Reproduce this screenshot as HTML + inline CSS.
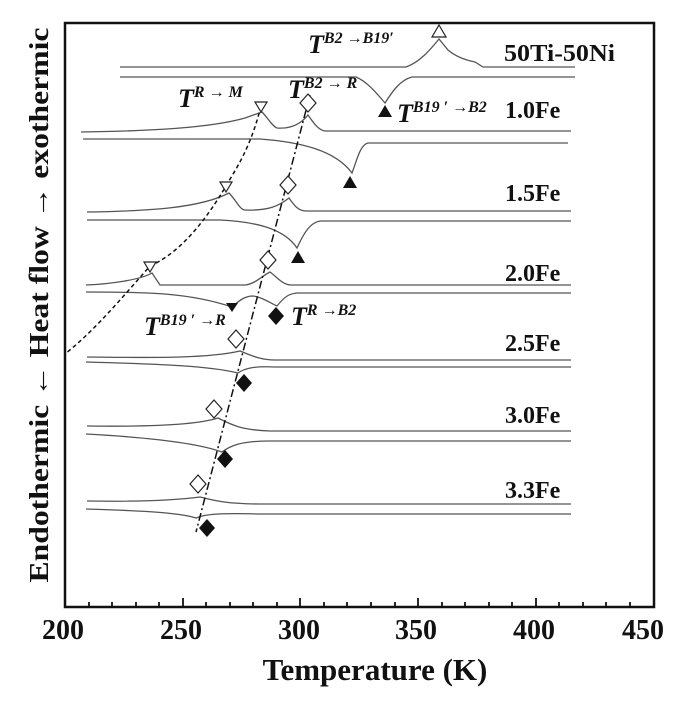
<!DOCTYPE html>
<html><head><meta charset="utf-8"><style>
body{margin:0;background:#fff;}
svg{display:block;font-family:"Liberation Serif",serif;}
.c{fill:none;stroke:#555;stroke-width:1.3;}
.lab{font-weight:bold;font-size:24px;fill:#111;}
.t{font-weight:bold;font-style:italic;font-size:26px;fill:#111;}
.s{font-size:16px;}
</style></head><body>
<svg width="693" height="705" viewBox="0 0 693 705" xmlns="http://www.w3.org/2000/svg">
<rect x="65" y="23" width="589" height="584" fill="none" stroke="#111" stroke-width="2.5"/>
<g stroke="#111" stroke-width="1.8">
<path d="M65 607v-9M89 607v-5M112 607v-5M136 607v-5M159 607v-5M183 607v-9M206 607v-5M230 607v-5M253 607v-5M277 607v-5M300 607v-9M324 607v-5M347 607v-5M371 607v-5M395 607v-5M418 607v-9M442 607v-5M465 607v-5M489 607v-5M512 607v-5M536 607v-9M559 607v-5M583 607v-5M606 607v-5M630 607v-5"/>
</g>
<g class="lab" text-anchor="middle">
<text x="63" y="639" style="font-size:28px">200</text><text x="181" y="639" style="font-size:28px">250</text><text x="299" y="639" style="font-size:28px">300</text><text x="416" y="639" style="font-size:28px">350</text><text x="534" y="639" style="font-size:28px">400</text><text x="643" y="639" style="font-size:28px">450</text>
<text x="375" y="680" style="font-size:31px">Temperature (K)</text>
</g>
<text class="lab" transform="translate(48,305) rotate(-90)" text-anchor="middle" style="font-size:27px" textLength="555" lengthAdjust="spacingAndGlyphs">Endothermic ← Heat flow → exothermic</text>

<path class="c" d="M120 67H406C420 62 430 50 439 39L448 50C455 56 465 60 475 62L483 67H575"/>
<path class="c" d="M120 77H356C368 82 378 95 385 103C392 92 400 80 412 77H575"/>
<path class="c" d="M81 132C150 131 210 128 245 118L262 112C268 118 272 126 277 128C290 129 300 125 308 115C313 122 318 130 325 131H571"/>
<path class="c" d="M83 139H260C300 142 335 150 352 173C357 160 360 145 368 143H568"/>
<path class="c" d="M87 212C150 211 200 208 229 193C236 200 240 210 245 210C270 211 280 205 289 198C294 205 298 211 306 211H571"/>
<path class="c" d="M87 220H220C260 222 285 230 297 248C303 235 310 221 322 221H571"/>
<path class="c" d="M86 285C110 284 140 280 152 273L160 285H245C255 284 262 276 270 272C278 278 283 285 291 285H571"/>
<path class="c" d="M86 292C150 292 190 293 232 307C240 300 245 296 253 296C262 297 270 303 277 306C285 296 290 293 299 293H571"/>
<path class="c" d="M87 357C160 358 210 358 240 351C250 355 260 360 275 360H571"/>
<path class="c" d="M86 362C160 364 210 366 238 373C245 368 255 366 275 367H571"/>
<path class="c" d="M87 426C160 427 200 424 218 418C230 424 240 430 270 431H571"/>
<path class="c" d="M86 434C160 438 200 444 222 452C230 446 240 441 270 441H571"/>
<path class="c" d="M87 501C150 502 185 499 200 497C212 500 225 504 260 504H571"/>
<path class="c" d="M86 509C150 511 180 513 196 518C205 514 220 513 260 514H571"/>

<path d="M261 106C250 150 235 170 226 186C200 230 175 255 150 266C120 300 95 330 65 354" fill="none" stroke="#111" stroke-width="1.5" stroke-dasharray="4,3"/>
<path d="M310 95L196 532" fill="none" stroke="#111" stroke-width="1.5" stroke-dasharray="8,3,2,3"/>

<g fill="#fff" stroke="#222" stroke-width="1.2">
<path d="M439 25l7 12h-14z"/>
<path d="M261 112l-6 -10h12z"/><path d="M226 192l-6 -10h12z"/><path d="M150 272l-6 -10h12z"/>
<path d="M308 94l8 9l-8 9l-8 -9z"/><path d="M288 176l8 9l-8 9l-8 -9z"/><path d="M268 251l8 9l-8 9l-8 -9z"/>
<path d="M236 330l8 9l-8 9l-8 -9z"/><path d="M214 400l8 9l-8 9l-8 -9z"/><path d="M198 475l8 9l-8 9l-8 -9z"/>
</g>
<g fill="#111">
<path d="M385 105l7 12h-14z"/><path d="M350 176l7 12h-14z"/><path d="M298 251l7 12h-14z"/>
<path d="M232 312l-6 -9h12z"/>
<path d="M276 307l8 9l-8 9l-8 -9z"/><path d="M244 374l8 9l-8 9l-8 -9z"/><path d="M225 450l8 9l-8 9l-8 -9z"/><path d="M207 519l8 9l-8 9l-8 -9z"/>
</g>

<g class="lab">
<text x="504" y="61" textLength="111" lengthAdjust="spacingAndGlyphs">50Ti-50Ni</text><text x="505" y="118">1.0Fe</text><text x="505" y="201">1.5Fe</text>
<text x="505" y="281">2.0Fe</text><text x="505" y="351">2.5Fe</text><text x="505" y="423">3.0Fe</text><text x="505" y="498">3.3Fe</text>
</g>
<g class="t">
<text x="308" y="53">T<tspan class="s" dy="-10">B2 →B19′</tspan></text>
<text x="397" y="122">T<tspan class="s" dy="-10">B19 ′ →B2</tspan></text>
<text x="178" y="107">T<tspan class="s" dy="-10">R → M</tspan></text>
<text x="288" y="98">T<tspan class="s" dy="-10">B2 → R</tspan></text>
<text x="144" y="335">T<tspan class="s" dy="-10">B19 ′ →R</tspan></text>
<text x="291" y="325">T<tspan class="s" dy="-10">R →B2</tspan></text>
</g>
</svg>
</body></html>
